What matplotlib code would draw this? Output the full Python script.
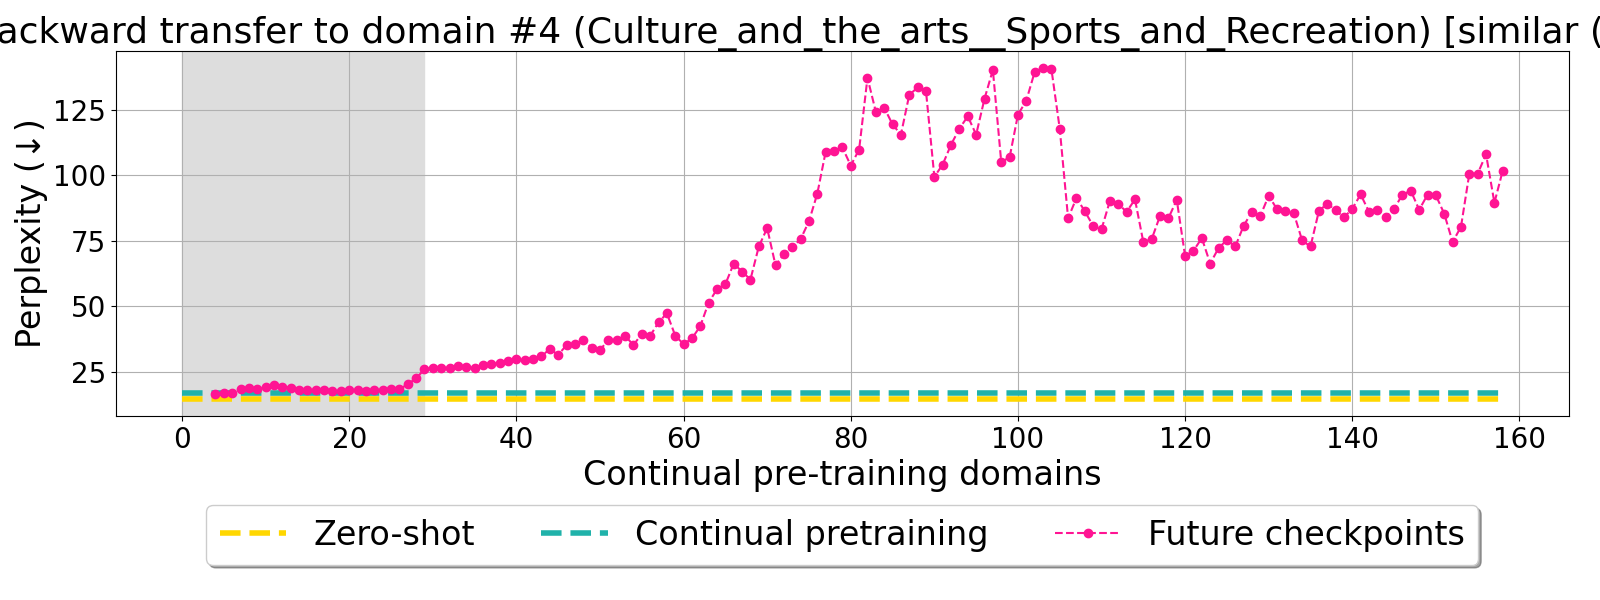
import numpy as np
import matplotlib
matplotlib.use('Agg')
import matplotlib.pyplot as plt

# domains seen by the continual pre-training run
domains = np.arange(0, 159)
checkpoint_domains = np.arange(4, 159)

zero_shot_ppl = 14.5
cpt_ppl = 16.9

# perplexity of future checkpoints on domain #4
future_ppl = [
    16.6, 17.0, 17.0, 18.3, 18.6, 18.3, 19.0, 19.8, 19.3, 18.9,   # 4-13
    17.9, 17.9, 17.9, 18.0, 17.5, 17.5, 18.0, 18.0, 17.5, 18.0,   # 14-23
    18.0, 18.3, 18.3, 20.2, 22.5, 25.9, 26.5, 26.5, 26.5, 27.3,   # 24-33
    26.8, 26.3, 27.4, 27.8, 28.4, 28.9, 30.0, 29.6, 29.9, 30.9,   # 34-43
    33.7, 31.4, 35.2, 35.5, 37.1, 34.2, 33.3, 37.1, 37.1, 38.7,   # 44-53
    35.2, 39.4, 38.7, 43.8, 47.3, 38.8, 35.5, 37.7, 42.4, 51.4,   # 54-63
    56.5, 58.4, 66.3, 63.2, 60.2, 72.8, 79.8, 65.6, 69.8, 72.6,   # 64-73
    75.6, 82.4, 93.0, 109.0, 109.3, 110.6, 103.7, 109.8, 137.2, 124.2,  # 74-83
    125.8, 119.4, 115.5, 130.7, 133.5, 132.1, 99.4, 104.1, 111.7, 117.8,  # 84-93
    122.5, 115.5, 129.2, 140.2, 105.1, 106.8, 123.1, 128.5, 139.4, 141.1,  # 94-103
    140.6, 117.8, 83.6, 91.3, 86.3, 80.6, 79.4, 90.2, 89.1, 86.0,   # 104-113
    90.8, 74.5, 75.6, 84.5, 83.6, 90.6, 69.1, 71.2, 76.0, 66.3,   # 114-123
    72.2, 75.3, 72.8, 80.7, 86.1, 84.5, 92.2, 87.0, 86.3, 85.5,   # 124-133
    75.1, 72.8, 86.3, 89.2, 86.6, 83.9, 87.2, 92.7, 86.0, 86.9,   # 134-143
    84.1, 87.2, 92.6, 94.1, 86.8, 92.6, 92.3, 85.3, 74.5, 80.3,   # 144-153
    100.6, 100.6, 108.0, 89.5, 101.8,                             # 154-158
]

seen_until = 29  # domains already trained on when domain #4 was evaluated

fig = plt.figure(figsize=(16, 6), dpi=100)
ax = fig.add_axes([0.0725, 0.307, 0.908, 0.608])

ax.axvspan(0, seen_until, color='#dddddd', zorder=0)
ax.plot(domains, np.full(len(domains), zero_shot_ppl), '--', color='gold', lw=4, label='Zero-shot')
ax.plot(domains, np.full(len(domains), cpt_ppl), '--', color='lightseagreen', lw=4, label='Continual pretraining')
ax.plot(checkpoint_domains, future_ppl, '--o', color='deeppink', lw=1.5, markersize=6, label='Future checkpoints')

# title is wider than the figure, only the middle part is visible
ax.set_title('Backward transfer to domain #4 (Culture_and_the_arts__Sports_and_Recreation) [similar (0.87)]',
             fontsize=26)
ax.set_xlabel('Continual pre-training domains', fontsize=24)
ax.set_ylabel('Perplexity (↓)', fontsize=24)
ax.tick_params(labelsize=20)
ax.grid(True)
ax.set_axisbelow(True)

ax.legend(loc='upper center', bbox_to_anchor=(0.5, -0.20), ncol=3, fancybox=True, shadow=True, fontsize=24)

plt.savefig('out.png')
